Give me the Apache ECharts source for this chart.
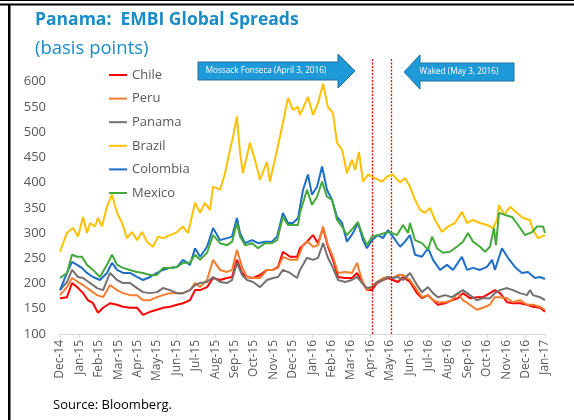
<!DOCTYPE html>
<html><head><meta charset="utf-8">
<script src="https://cdn.jsdelivr.net/npm/echarts@6/dist/echarts.min.js"></script>
<style>html,body{margin:0;padding:0;background:#fff}#c{width:574px;height:420px}</style>
</head><body><div id="c"></div>
<script>
var monthLabels = ['Dec-14','Jan-15','Feb-15','Mar-15','Apr-15','May-15','Jun-15','Jul-15','Aug-15','Sep-15','Oct-15','Nov-15','Dec-15','Jan-16','Feb-16','Mar-16','Apr-16','May-16','Jun-16','Jul-16','Aug-16','Sep-16','Oct-16','Nov-16','Dec-16','Jan-17'];
var yTicks = [100,150,200,250,300,350,400,450,500,550,600];
var seriesNames = ['Chile','Peru','Panama','Brazil','Colombia','Mexico'];
// x = months since 1 Dec 2014
var chile = [[0,171],[0.36,173],[0.62,201],[0.88,193],[1.19,181],[1.44,167],[1.70,161],[1.96,142],[2.22,152],[2.58,161],[2.94,158],[3.25,154],[3.61,152],[3.97,152],[4.28,138],[4.64,144],[5.0,148],[5.31,152],[5.67,154],[6.03,158],[6.34,161],[6.70,167],[6.96,187],[7.22,187],[7.58,193],[7.89,211],[8.25,207],[8.61,211],[8.87,213],[9.12,247],[9.38,221],[9.64,213],[9.95,211],[10.31,217],[10.67,227],[10.98,227],[11.24,233],[11.49,263],[11.86,253],[12.22,253],[12.37,270],[12.73,283],[13.04,296],[13.30,280],[13.56,310],[13.81,273],[14.07,247],[14.33,213],[14.69,211],[15.05,211],[15.31,221],[15.57,203],[15.82,187],[16.08,187],[16.34,201],[16.65,207],[16.91,211],[17.16,207],[17.42,203],[17.68,213],[18.04,203],[18.40,181],[18.66,171],[18.97,177],[19.23,167],[19.48,158],[19.85,161],[20.21,167],[20.52,171],[20.77,181],[21.13,171],[21.49,173],[21.80,173],[22.16,181],[22.42,187],[22.68,181],[23.04,163],[23.35,161],[23.71,161],[24.07,158],[24.38,154],[24.74,152],[25.0,144]];
var peru = [[0,177],[0.36,193],[0.62,211],[0.93,203],[1.19,197],[1.55,187],[1.91,177],[2.22,173],[2.58,197],[2.94,187],[3.25,181],[3.61,177],[3.97,177],[4.28,167],[4.64,167],[5.0,173],[5.31,177],[5.67,181],[6.03,181],[6.34,181],[6.70,187],[6.96,201],[7.22,193],[7.58,207],[7.89,247],[8.25,227],[8.61,223],[8.87,227],[9.12,267],[9.38,233],[9.64,213],[9.95,211],[10.31,211],[10.67,227],[10.98,227],[11.24,231],[11.49,253],[11.86,247],[12.22,247],[12.53,276],[12.78,283],[13.04,273],[13.30,276],[13.56,313],[13.81,276],[14.07,253],[14.33,221],[14.69,223],[15.05,221],[15.31,241],[15.57,207],[15.82,187],[16.08,193],[16.34,203],[16.65,211],[16.91,213],[17.16,211],[17.42,217],[17.68,217],[18.04,207],[18.40,187],[18.66,173],[18.97,177],[19.23,167],[19.48,163],[19.85,163],[20.21,167],[20.52,181],[20.77,167],[21.13,158],[21.49,148],[21.80,152],[22.16,158],[22.42,173],[22.68,173],[23.04,171],[23.35,163],[23.71,167],[24.07,158],[24.38,158],[24.74,154],[25.0,148]];
var panama = [[0,187],[0.36,203],[0.62,227],[0.93,213],[1.19,211],[1.55,201],[1.91,191],[2.22,187],[2.58,221],[2.94,207],[3.25,201],[3.61,201],[3.97,191],[4.28,183],[4.64,181],[5.0,183],[5.31,191],[5.67,187],[6.03,181],[6.34,181],[6.70,187],[6.96,197],[7.22,201],[7.58,203],[7.89,213],[8.25,203],[8.61,201],[8.87,207],[9.12,241],[9.38,217],[9.64,207],[9.95,203],[10.31,193],[10.67,207],[10.98,211],[11.24,213],[11.49,227],[11.86,221],[12.22,211],[12.37,227],[12.73,251],[13.04,247],[13.30,251],[13.56,280],[13.81,251],[14.07,231],[14.33,207],[14.69,203],[15.05,207],[15.31,213],[15.57,201],[15.82,191],[16.08,193],[16.34,203],[16.65,207],[16.91,213],[17.16,211],[17.42,213],[17.68,207],[18.04,221],[18.40,197],[18.66,183],[18.97,193],[19.23,181],[19.48,173],[19.85,177],[20.21,173],[20.52,181],[20.77,187],[21.13,177],[21.49,167],[21.80,171],[22.16,171],[22.42,181],[22.68,187],[23.04,191],[23.35,187],[23.71,181],[24.07,177],[24.23,187],[24.38,177],[24.74,173],[25.0,167]];
var brazil = [[0,263],[0.35,300],[0.67,310],[0.93,293],[1.19,332],[1.39,300],[1.55,320],[1.80,313],[1.96,330],[2.16,313],[2.42,352],[2.68,376],[2.94,340],[3.20,320],[3.45,290],[3.71,302],[3.97,286],[4.23,302],[4.48,283],[4.79,273],[5.05,293],[5.31,290],[5.67,296],[6.03,302],[6.34,313],[6.60,300],[6.96,360],[7.22,340],[7.47,360],[7.73,346],[7.89,392],[8.25,386],[8.51,419],[8.76,465],[8.92,491],[9.12,531],[9.28,459],[9.43,419],[9.79,479],[10.05,445],[10.31,406],[10.67,441],[10.82,402],[11.19,465],[11.49,518],[11.75,568],[12.01,544],[12.27,550],[12.37,534],[12.78,570],[13.04,534],[13.30,558],[13.56,596],[13.81,550],[14.07,538],[14.28,479],[14.54,465],[14.79,419],[15.05,445],[15.21,425],[15.41,461],[15.62,402],[15.88,416],[16.24,409],[16.60,402],[16.86,412],[17.16,416],[17.53,400],[17.78,409],[18.04,392],[18.30,366],[18.56,346],[18.81,340],[19.07,350],[19.33,326],[19.69,302],[20.0,313],[20.36,320],[20.72,342],[20.98,320],[21.29,326],[21.65,320],[22.01,316],[22.32,310],[22.53,326],[22.63,356],[22.89,336],[23.20,352],[23.56,340],[23.87,330],[24.23,326],[24.38,306],[24.64,290],[25.0,296]];
var colombia = [[0,187],[0.36,221],[0.62,243],[0.88,237],[1.13,231],[1.39,221],[1.70,213],[2.06,207],[2.42,221],[2.68,241],[2.94,227],[3.25,221],[3.61,221],[3.97,213],[4.28,207],[4.64,213],[5.0,221],[5.31,227],[5.67,231],[6.03,233],[6.34,247],[6.70,237],[6.96,270],[7.22,253],[7.58,273],[7.89,310],[8.25,286],[8.61,290],[8.87,293],[9.12,330],[9.28,300],[9.54,280],[9.90,286],[10.21,280],[10.57,283],[10.93,283],[11.19,293],[11.49,340],[11.75,320],[12.01,320],[12.27,330],[12.53,386],[12.78,416],[12.99,376],[13.25,392],[13.51,432],[13.76,386],[14.02,366],[14.28,332],[14.54,320],[14.79,283],[15.10,300],[15.36,320],[15.62,286],[15.82,270],[16.08,286],[16.39,296],[16.65,290],[16.91,306],[17.16,293],[17.53,273],[17.78,283],[18.04,296],[18.30,257],[18.66,253],[18.97,270],[19.23,247],[19.59,227],[19.95,237],[20.26,227],[20.72,253],[20.98,227],[21.29,231],[21.65,227],[22.01,233],[22.27,247],[22.42,227],[22.78,270],[23.09,251],[23.45,233],[23.81,221],[24.12,223],[24.48,211],[24.74,213],[25.0,209]];
var mexico = [[0,211],[0.36,221],[0.62,257],[0.88,253],[1.13,253],[1.39,237],[1.70,227],[2.06,213],[2.42,237],[2.68,257],[2.94,237],[3.25,231],[3.61,227],[3.97,223],[4.28,221],[4.64,217],[5.0,217],[5.31,231],[5.67,231],[6.03,233],[6.34,241],[6.70,241],[6.96,257],[7.22,247],[7.58,261],[7.89,296],[8.25,280],[8.61,276],[8.87,283],[9.12,320],[9.28,293],[9.54,276],[9.90,280],[10.21,270],[10.57,280],[10.93,280],[11.19,286],[11.49,332],[11.75,316],[12.27,316],[12.37,340],[12.73,386],[12.99,356],[13.25,372],[13.51,402],[13.76,372],[14.02,366],[14.28,326],[14.54,313],[14.79,296],[15.10,310],[15.36,322],[15.62,293],[15.82,276],[16.08,293],[16.39,296],[16.75,300],[17.01,302],[17.37,296],[17.68,316],[17.94,300],[18.04,320],[18.30,286],[18.66,280],[18.97,267],[19.18,293],[19.43,270],[19.74,261],[20.10,263],[20.46,273],[20.77,283],[21.03,300],[21.29,283],[21.65,273],[21.91,263],[22.16,273],[22.37,310],[22.47,276],[22.63,340],[22.94,336],[23.30,332],[23.61,316],[23.97,296],[24.33,302],[24.59,313],[24.90,313],[25.0,300]];
var eventLines = [16.07, 17.06]; // 3 Apr 2016, 3 May 2016
var colors = ['#FF0000','#F47D30','#767171','#FFC000','#1E6EC8','#44AA3C'];
var allData = [chile, peru, panama, brazil, colombia, mexico];

var chart = echarts.init(document.getElementById('c'), null, {renderer:'canvas'});
var FONT = '"Open Sans", "Noto Sans", sans-serif';
var series = seriesNames.map(function(n,i){
  return {name:n, type:'line', data:allData[i], symbol:'none', showSymbol:false,
    lineStyle:{width:2, color:colors[i]}, itemStyle:{color:colors[i]}, z:2+i, animation:false};
});
series.push({name:'events', type:'line', data:[], silent:true, z:20, animation:false,
  markLine:{symbol:['none','none'], silent:true, label:{show:false}, animation:false,
    emphasis:{disabled:true},
    lineStyle:{color:'#FF0000', type:[2,1.5], width:1.3, opacity:1},
    data: eventLines.map(function(v){return {xAxis:v, lineStyle:{color:'#FF0000'}};})}});
chart.setOption({
  animation:false,
  textStyle:{fontFamily:FONT},
  grid:{left:60, right:29, top:59, bottom:86},
  xAxis:{type:'value', min:0, max:25, interval:1,
    axisLine:{lineStyle:{color:'#D9D9D9'}},
    axisTick:{show:true, length:4, lineStyle:{color:'#D9D9D9'}},
    splitLine:{show:false},
    axisLabel:{rotate:90, color:'#595959', fontSize:12, fontFamily:FONT, margin:6,
      formatter:function(v){return monthLabels[v]||'';}}},
  yAxis:{type:'value', min:100, max:645, interval:50,
    axisLine:{show:false}, axisTick:{show:false}, splitLine:{show:false},
    axisLabel:{color:'#595959', fontSize:13, fontFamily:FONT, margin:14,
      formatter:function(v){return yTicks.indexOf(v)>=0 ? String(v) : '';}}},
  legend:{orient:'vertical', left:104, top:63, itemWidth:18, itemHeight:2, itemGap:9.6,
    icon:'rect', data:seriesNames,
    textStyle:{color:'#595959', fontSize:13, fontFamily:FONT, lineHeight:14}},
  series:series,
  graphic:[
    {type:'rect', shape:{x:0,y:0,width:574,height:1}, style:{fill:'#000'}},
    {type:'rect', shape:{x:0,y:3.5,width:574,height:2}, style:{fill:'#000'}},
    {type:'rect', shape:{x:8,y:4,width:2.5,height:416}, style:{fill:'#000'}},
    {type:'text', left:35, top:11, style:{text:'Panama:  EMBI Global Spreads', fill:'#1A8CC8', font:'bold 17.5px '+FONT}},
    {type:'text', left:35, top:39, style:{text:'(basis points)', fill:'#1A8CC8', font:'18.5px '+FONT}},
    {type:'polygon', shape:{points:[[198,62],[338,62],[338,54],[355,71],[338,88],[338,80],[198,80]]},
      style:{fill:'#1E9AD8', stroke:'#1F6E9E', lineWidth:1}, z:20},
    {type:'text', x:266, y:71, style:{text:'Mossack Fonseca (April 3, 2016)', fill:'#fff', font:'8.2px '+FONT, align:'center', verticalAlign:'middle'}, z:21},
    {type:'polygon', shape:{points:[[404,72],[420,55],[420,63],[514,63],[514,81],[420,81],[420,89]]},
      style:{fill:'#1E9AD8', stroke:'#1F6E9E', lineWidth:1}, z:20},
    {type:'text', x:459, y:72, style:{text:'Waked (May 3, 2016)', fill:'#fff', font:'8.2px '+FONT, align:'center', verticalAlign:'middle'}, z:21},
    {type:'text', left:53, top:399, style:{text:'Source: Bloomberg.', fill:'#000', font:'13px '+FONT}}
  ]
});
</script></body></html>
